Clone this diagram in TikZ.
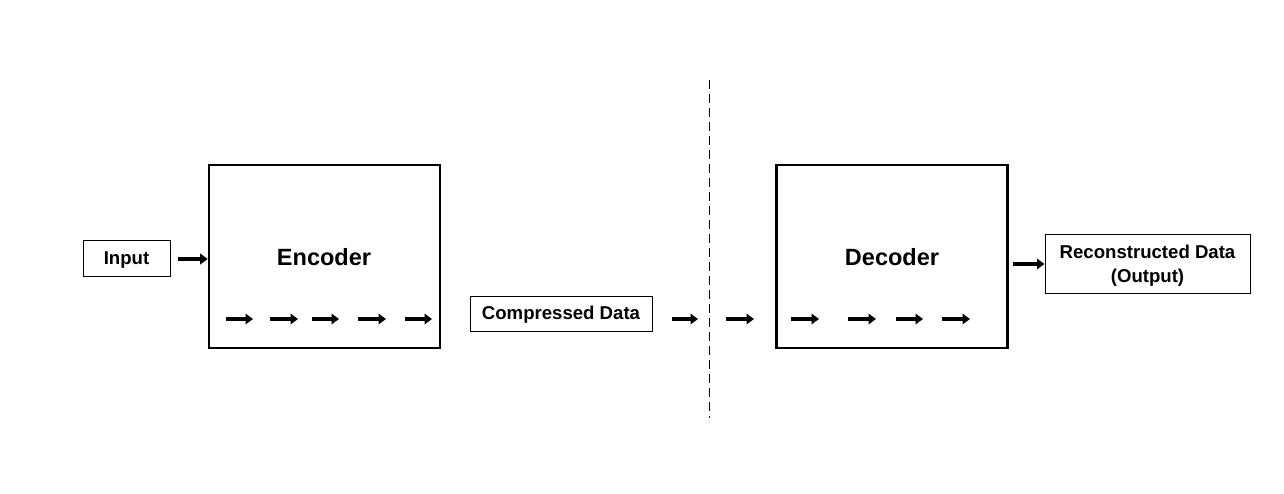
\documentclass[tikz,border=0pt]{standalone}
\usepackage{fontspec}
\setmainfont{Liberation Sans}
\usetikzlibrary{arrows.meta}
\begin{document}
\begin{tikzpicture}[x=1pt,y=-1pt,
  smallbox/.style={draw,line width=1pt,minimum height=35pt,inner sep=0pt,font=\bfseries\fontsize{18.6}{24}\selectfont,align=center},
  bigbox/.style={draw,line width=2.6pt,minimum width=231pt,minimum height=183pt,inner sep=0pt},
  bigtext/.style={font=\bfseries\fontsize{23.5}{27}\selectfont},
  thickarrow/.style={line width=4.6pt,-{Triangle[length=7.5pt,width=10.5pt]}}]
\useasboundingbox (0,0) rectangle (1284,494);
\node[smallbox,minimum width=87pt] (in) at (126.5,258.5) {};
\node[font=\bfseries\fontsize{18.6}{24}\selectfont] (int) at (126.5,260) {Input};
\node[bigbox] (enc) at (324.5,256.5) {};
\node[bigtext] (enct) at (324,257) {Encoder};
\node[smallbox,minimum width=182pt] (comp) at (561,313.5) {};
\node[font=\bfseries\fontsize{18.6}{24}\selectfont] (compt) at (561,315) {Compressed Data};
\node[bigbox] (dec) at (892,256.5) {};
\node[bigtext] (dect) at (892,257) {Decoder};
\node[smallbox,minimum width=205pt,minimum height=58pt] (out) at (1147.5,264) {};
\node[font=\bfseries\fontsize{18.6}{24}\selectfont,align=center] (outt) at (1147.5,265.5) {Reconstructed Data\\(Output)};
\coordinate (dtop) at (709,80);
\coordinate (dbot) at (709,418);
\draw[line width=1pt,dash pattern=on 9pt off 5pt] (dtop) -- (dbot);
\coordinate (ia) at (178,259);
\draw[thickarrow] (ia) -- (ia -| enc.west);
\foreach \a/\b [count=\i] in {226/253,270/298,312/339,358/386,405/432}{
  \coordinate (es\i) at (\a,319); \coordinate (ee\i) at (\b,319);
  \draw[thickarrow] (es\i) -- (ee\i);}
\coordinate (m1s) at (672,319); \coordinate (m1e) at (698,319);
\coordinate (m2s) at (726,319); \coordinate (m2e) at (754,319);
\draw[thickarrow] (m1s) -- (m1e);
\draw[thickarrow] (m2s) -- (m2e);
\foreach \a/\b [count=\i] in {791/819,848/876,896/923,942/970}{
  \coordinate (ds\i) at (\a,319); \coordinate (de\i) at (\b,319);
  \draw[thickarrow] (ds\i) -- (de\i);}
\coordinate (oa) at (1013,264);
\draw[thickarrow] (oa) -- (oa -| out.west);
\end{tikzpicture}
\end{document}
